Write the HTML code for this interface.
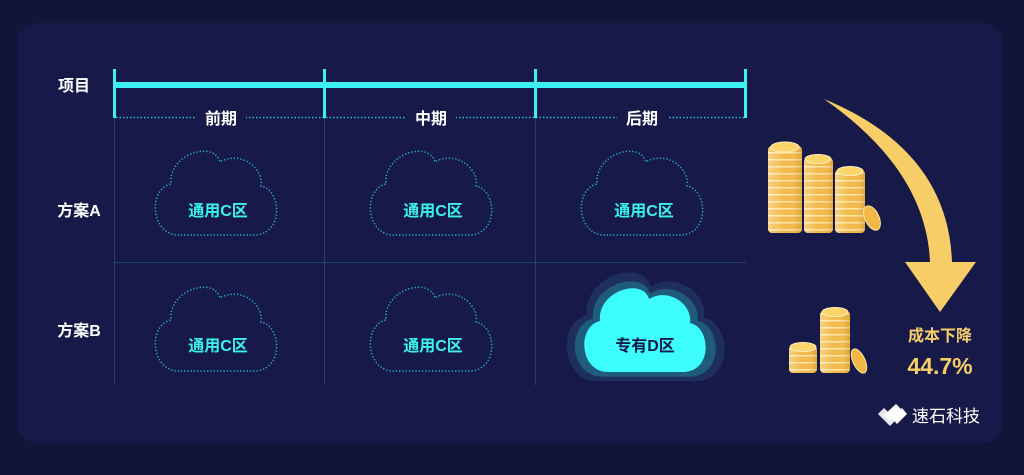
<!DOCTYPE html>
<html><head><meta charset="utf-8"><style>
body{margin:0;width:1024px;height:475px;background:#12143a;overflow:hidden;font-family:"Liberation Sans","Noto Sans CJK SC",sans-serif}
svg{position:absolute;left:0;top:0}
</style></head><body>
<svg width="1024" height="475" viewBox="0 0 1024 475">
<defs>
<pattern id="st" width="10" height="7" patternUnits="userSpaceOnUse"><rect width="10" height="7" fill="#f2b845"/><rect y="5" width="10" height="1.5" fill="#fde7a6"/></pattern>
<linearGradient id="cg" x1="0" x2="1"><stop offset="0" stop-color="#fff" stop-opacity=".35"/><stop offset=".5" stop-color="#fff" stop-opacity="0"/><stop offset="1" stop-color="#c07a10" stop-opacity=".35"/></linearGradient>
<g id="cloud"><path d="M-35,41 C-64,41 -66,-5 -43,-10 C-46,-40 0,-54 6,-32 C26,-44 50,-26 47,-8 C68,-4 70,41 40,41 Z"/></g>
</defs>
<rect x="17" y="23" width="986" height="420" rx="20" fill="#171a48"/>
<g stroke="#23416a" stroke-width="1">
<line x1="114.5" y1="117" x2="114.5" y2="385"/><line x1="324.5" y1="117" x2="324.5" y2="385"/><line x1="535.5" y1="117" x2="535.5" y2="385"/>
<line x1="114" y1="262.5" x2="746" y2="262.5"/></g>
<line x1="116" y1="117.5" x2="746" y2="117.5" stroke="#2cb8d8" stroke-width="1.5" stroke-dasharray="1.5 2"/>
<g fill="#171a48"><rect x="196" y="108" width="50" height="20"/><rect x="406" y="108" width="50" height="20"/><rect x="617" y="108" width="50" height="20"/></g>
<g fill="#3cf2f0"><rect x="114" y="82" width="632" height="6"/>
<rect x="113" y="69" width="3" height="49"/><rect x="323" y="69" width="3" height="49"/><rect x="534" y="69" width="3" height="49"/><rect x="744" y="69" width="3" height="49"/></g>
<g font-size="16" font-weight="bold" fill="#fff" text-anchor="middle">
<text x="221" y="124">前期</text><text x="431" y="124">中期</text><text x="642" y="124">后期</text>
<text x="74" y="91">项目</text><text x="79" y="216">方案A</text><text x="79" y="336">方案B</text></g>
<g fill="none" stroke="#2aa8d0" stroke-width="1.5" stroke-dasharray="1.3 2">
<use href="#cloud" transform="translate(214,194)"/>
<use href="#cloud" transform="translate(429,194)"/>
<use href="#cloud" transform="translate(640,194)"/>
<use href="#cloud" transform="translate(214,330)"/>
<use href="#cloud" transform="translate(429,330)"/>
</g>
<g font-size="16" font-weight="bold" fill="#3cf2f0" text-anchor="middle">
<text x="218" y="216">通用C区</text><text x="433" y="216">通用C区</text><text x="644" y="216">通用C区</text>
<text x="218" y="351">通用C区</text><text x="433" y="351">通用C区</text></g>
<use href="#cloud" transform="translate(643,328) scale(1.3,1.3)" fill="#1e2f5e"/>
<use href="#cloud" transform="translate(643,330) scale(1.16,1.14)" fill="#1f5b7a"/>
<use href="#cloud" transform="translate(643,331)" fill="#3cfcfc"/>
<text x="645" y="351" font-size="16" font-weight="bold" fill="#171a48" text-anchor="middle">专有D区</text>
<path d="M824,99 Q948,150 952,262 L976,262 L940,312 L905,262 L930,262 Q926,170 824,99 Z" fill="#f7cd68"/>
<g>
<rect x="768" y="146" width="34" height="87" rx="4" fill="url(#st)"/><rect x="768" y="146" width="34" height="87" rx="4" fill="url(#cg)"/><ellipse cx="785" cy="147" rx="14" ry="5" fill="#fbd46a" stroke="#fff2c4"/>
<rect x="804" y="158" width="29" height="75" rx="4" fill="url(#st)"/><rect x="804" y="158" width="29" height="75" rx="4" fill="url(#cg)"/><ellipse cx="818" cy="159" rx="13" ry="4.5" fill="#fbd46a" stroke="#fff2c4"/>
<rect x="835" y="170" width="30" height="63" rx="4" fill="url(#st)"/><rect x="835" y="170" width="30" height="63" rx="4" fill="url(#cg)"/><ellipse cx="850" cy="171" rx="13" ry="4.5" fill="#fbd46a" stroke="#fff2c4"/>
<ellipse cx="872" cy="218" rx="7" ry="13" transform="rotate(-25 872 218)" fill="#f2b845" stroke="#fde7a6"/>
<rect x="789" y="346" width="28" height="27" rx="4" fill="url(#st)"/><rect x="789" y="346" width="28" height="27" rx="4" fill="url(#cg)"/><ellipse cx="803" cy="347" rx="13" ry="4.5" fill="#fbd46a" stroke="#fff2c4"/>
<rect x="820" y="311" width="30" height="62" rx="4" fill="url(#st)"/><rect x="820" y="311" width="30" height="62" rx="4" fill="url(#cg)"/><ellipse cx="835" cy="312" rx="13" ry="4.5" fill="#fbd46a" stroke="#fff2c4"/>
<ellipse cx="859" cy="361" rx="6" ry="13" transform="rotate(-25 859 361)" fill="#f2b845" stroke="#fde7a6"/>
</g>
<text x="940" y="341" font-size="16" font-weight="bold" fill="#f7cd68" text-anchor="middle">成本下降</text>
<text x="940" y="374" font-size="23" font-weight="bold" fill="#f7cd68" text-anchor="middle">44.7%</text>
<g fill="#fff"><path d="M884,415 L896,404 L902,410 L890,421 Z"/><path d="M878,414 L884,408 L896,420 L890,426 Z" opacity=".9"/><path d="M892,418 L902,408 L907,414 L897,424 Z"/></g>
<text x="912" y="422" font-size="17" fill="#fff">速石科技</text>
</svg>
</body></html>
